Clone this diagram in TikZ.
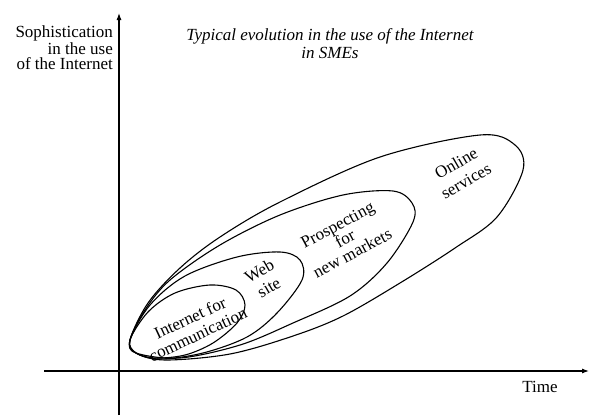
\documentclass[tikz,border=0pt]{standalone}
\usepackage{fontspec}
\setmainfont{Liberation Serif}
\usetikzlibrary{arrows.meta,positioning}

\begin{document}
\begin{tikzpicture}[x=1pt, y=-1pt]
	\tikzstyle{lbl}=[inner sep=0pt, align=center, font=\fontsize{17}{15}\selectfont];
	\tikzstyle{phase}=[line width=1.1pt, smooth cycle, tension=0.55];
	\tikzstyle{axis}=[line width=1.1pt, -{Latex[length=7pt, width=5pt]}];

   \useasboundingbox (0,0) rectangle (589,415);
   \coordinate (ybot) at (119,415);
   \coordinate (ytop) at (119,13);
   \coordinate (xl) at (44,371);
   \coordinate (xr) at (589,371);
   \draw[axis] (ybot) -- (ytop);
   \draw[axis] (xl) -- (xr);

   \node[lbl, align=right, anchor=north east] (ylab) at (113,26) {Sophistication\\in the use\\of the Internet};
   \node[lbl, font=\fontsize{17}{18}\selectfont\itshape, anchor=north] (title) at (330,28) {Typical evolution in the use of the Internet\\in SMEs};
   \node[lbl] (time) at (540,387) {Time};

   % phases
   \draw[phase] plot coordinates {(130,340) (148,312) (175,293) (210,285) (236,290) (245,305) (237,323) (213,343) (185,355) (155,358) (136,353)};
   \draw[phase] plot coordinates {(130,340) (150,305) (185,276) (237,257) (280,252) (300,260) (302,280) (277,313) (247,337) (203,353) (160,359) (136,353)};
   \draw[phase] plot coordinates {(130,340) (145,310) (170,280) (220,245) (280,215) (343,195) (393,191) (412,203) (413,222) (387,263) (350,296) (293,323) (240,345) (180,358) (136,353)};
   \draw[phase] plot coordinates {(130,340) (148,303) (180,268) (220,237) (280,202) (380,157) (480,135) (515,145) (523,170) (497,217) (455,248) (400,283) (343,316) (293,336) (230,354) (165,360) (136,353)};

   \node[lbl, rotate=25, font=\fontsize{17}{18.5}\selectfont] (comm) at (194,326) {Internet for\\communication};
   \node[lbl, rotate=30, font=\fontsize{17}{19}\selectfont] (web) at (264,279) {Web\\site};
   \node[lbl, rotate=28, font=\fontsize{17}{16}\selectfont] (markets) at (345,239) {Prospecting\\for\\new markets};
   \node[lbl, rotate=30, font=\fontsize{17}{20}\selectfont] (online) at (461,172) {Online\\services};

\end{tikzpicture}
\end{document}
